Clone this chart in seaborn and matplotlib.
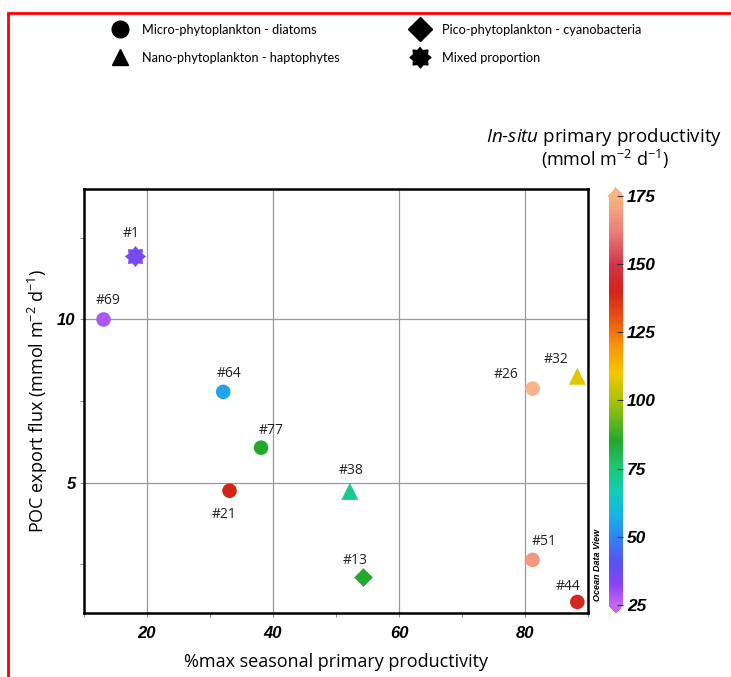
import numpy as np
import pandas as pd
import matplotlib
matplotlib.use("Agg")
import matplotlib.pyplot as plt
import seaborn as sns
from matplotlib.colors import LinearSegmentedColormap, Normalize
from matplotlib.cm import ScalarMappable
from matplotlib.lines import Line2D
from matplotlib.patches import Rectangle

plt.rcParams['font.family'] = ['Open Sans', 'DejaVu Sans']
plt.rcParams['mathtext.fontset'] = 'custom'
plt.rcParams['mathtext.rm'] = 'Open Sans'
plt.rcParams['mathtext.it'] = 'Open Sans:italic'

# station data
stations = ["#1", "#69", "#64", "#77", "#21", "#38", "#13", "#26", "#32", "#51", "#44"]
pct_max_pp = [18.1, 13.1, 32.1, 38.1, 33.1, 52.2, 54.3, 81.2, 88.3, 81.2, 88.3]
poc_flux = [11.96, 10.0, 7.78, 6.07, 4.75, 4.73, 2.1, 7.88, 8.26, 2.63, 1.34]
insitu_pp = [35, 28, 55, 85, 140, 72, 85, 176, 108, 168, 142]
community = ["Mixed proportion", "Micro-phytoplankton - diatoms",
             "Micro-phytoplankton - diatoms", "Micro-phytoplankton - diatoms",
             "Micro-phytoplankton - diatoms", "Nano-phytoplankton - haptophytes",
             "Pico-phytoplankton - cyanobacteria", "Micro-phytoplankton - diatoms",
             "Nano-phytoplankton - haptophytes", "Micro-phytoplankton - diatoms",
             "Micro-phytoplankton - diatoms"]

legend_order = ["Micro-phytoplankton - diatoms", "Nano-phytoplankton - haptophytes",
                "Pico-phytoplankton - cyanobacteria", "Mixed proportion"]

# 8-point star, blunter than the built-in one
ang = np.linspace(0, 2 * np.pi, 17)[:-1] + np.pi / 2
rad = np.where(np.arange(16) % 2 == 0, 1.0, 0.72)
star8 = list(zip(rad * np.cos(ang), rad * np.sin(ang)))

marker_map = {"Micro-phytoplankton - diatoms": "o",
              "Nano-phytoplankton - haptophytes": "^",
              "Pico-phytoplankton - cyanobacteria": "D",
              "Mixed proportion": star8}
size_map = {"Micro-phytoplankton - diatoms": 110,
            "Nano-phytoplankton - haptophytes": 150,
            "Pico-phytoplankton - cyanobacteria": 90,
            "Mixed proportion": 230}

# label offsets in points
label_offsets = {"#1": (-3, 16), "#69": (3, 14), "#64": (4, 13), "#77": (7, 12),
                 "#21": (-4, -17), "#38": (1, 15), "#13": (-6, 12), "#26": (-19, 10),
                 "#32": (-15, 12), "#51": (8, 13), "#44": (-7, 11)}

# ODV-like rainbow
cb_vals = [25, 32, 40, 50, 58, 66, 75, 85, 100, 110, 120, 130, 140, 150, 162, 175]
cb_cols = ["#c266f2", "#8a44f6", "#5a50f2", "#2f86f2", "#19b4e6", "#12ccb8",
           "#1ec877", "#22a82c", "#a8c40a", "#f2c800", "#f8960a", "#ea5410",
           "#d42418", "#d0344a", "#ec7d78", "#fbb487"]
vmin, vmax = 25, 175
cmap = LinearSegmentedColormap.from_list(
    "odv", [((v - vmin) / (vmax - vmin), c) for v, c in zip(cb_vals, cb_cols)])
norm = Normalize(vmin, vmax)

df = pd.DataFrame({"station": stations, "x": pct_max_pp, "y": poc_flux,
                   "pp": insitu_pp, "group": community})

fig = plt.figure(figsize=(7.31, 6.77), dpi=100)
ax = fig.add_axes([0.1149, 0.0945, 0.6895, 0.6263])

for grp, sub in df.groupby("group"):
    sns.scatterplot(data=sub, x="x", y="y", hue="pp", palette=cmap, hue_norm=norm,
                    marker=marker_map[grp], s=size_map[grp], linewidth=0,
                    legend=False, ax=ax, zorder=3)

for st, xv, yv in zip(stations, pct_max_pp, poc_flux):
    ax.annotate(st, (xv, yv), xytext=label_offsets[st], textcoords="offset points",
                ha="center", va="center", fontsize=10, color="#222222")

ax.set_xlim(10, 90)
ax.set_ylim(1, 14)
ax.set_xticks([20, 40, 60, 80])
ax.set_xticks([10, 30, 50, 70, 90], minor=True)
ax.set_yticks([5, 10])
ax.set_yticks([2.5, 7.5, 12.5], minor=True)
ax.grid(True, which="major", color="#999999", linewidth=0.9)
ax.set_axisbelow(True)
for sp in ax.spines.values():
    sp.set_linewidth(1.8)
    sp.set_color("black")
ax.tick_params(which="both", direction="out", length=3, width=0.6, color="#777777")
for lab in ax.get_xticklabels() + ax.get_yticklabels():
    lab.set_fontfamily("Liberation Sans")
    lab.set_fontweight("bold")
    lab.set_fontstyle("italic")
    lab.set_fontsize(12)
ax.tick_params(axis="x", pad=6)
ax.tick_params(axis="y", pad=3)
ax.set_xlabel("%max seasonal primary productivity", fontsize=13, labelpad=9)
ax.set_ylabel("POC export flux (mmol m$^{-2}$ d$^{-1}$)", fontsize=13, labelpad=5)

# colorbar
cax = fig.add_axes([0.833, 0.0945, 0.019, 0.628])
cb = fig.colorbar(ScalarMappable(norm=norm, cmap=cmap), cax=cax, extend="both",
                  extendfrac=0.02, ticks=[25, 50, 75, 100, 125, 150, 175])
cb.outline.set_visible(False)
cax.tick_params(direction="in", length=4, width=0.8, color="#333333", pad=3)
for lab in cax.get_yticklabels():
    lab.set_fontfamily("Liberation Sans")
    lab.set_fontweight("bold")
    lab.set_fontstyle("italic")
    lab.set_fontsize(12.5)

fig.text(0.826, 0.797, "$\\it{In}$-$\\it{situ}$ primary productivity", ha="center",
         va="center", fontsize=13.5)
fig.text(0.827, 0.764, "(mmol m$^{-2}$ d$^{-1}$)", ha="center", va="center", fontsize=13)
fig.text(0.818, 0.165, "Ocean Data View", rotation=90, ha="center", va="center",
         fontsize=6.5, fontweight="bold", fontstyle="italic", family="Liberation Sans")

# top legend
handles = [Line2D([], [], linestyle="", marker=marker_map[g], color="black",
                  markersize=12 if g != "Mixed proportion" else 15) for g in legend_order]
fig.legend(handles, legend_order, loc="upper left", bbox_to_anchor=(0.131, 0.982),
           ncol=2, frameon=False, prop={"family": "Lato", "size": 9.2},
           handletextpad=0.7, columnspacing=5.3, labelspacing=1.25)

fig.patches.append(Rectangle((0.011, -0.5), 2, 1.4808, transform=fig.transFigure,
                             fill=False, edgecolor="red", linewidth=2))

fig.savefig("out.png", dpi=100)
